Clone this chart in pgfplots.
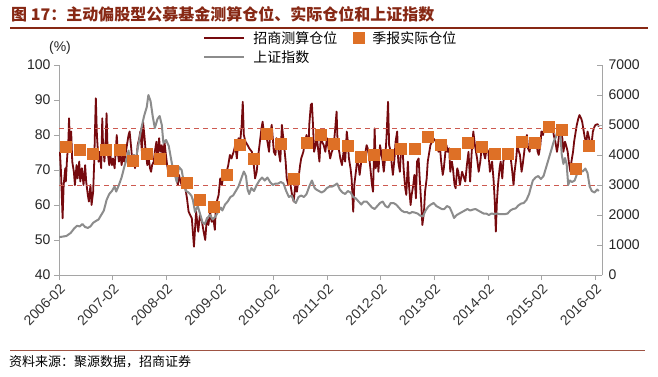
\documentclass[border=0pt]{standalone}
\usepackage{pgfplots}
\pgfplotsset{compat=1.18}
\usepackage{fontspec}
\setmainfont{Liberation Sans}
\newfontfamily\cjk{Noto Sans CJK SC}
\definecolor{posred}{RGB}{118,10,14}
\definecolor{idxgray}{RGB}{140,140,140}
\definecolor{qorange}{RGB}{222,112,38}
\definecolor{dashred}{RGB}{205,90,80}
\definecolor{titlecol}{RGB}{135,40,20}
\definecolor{axgray}{RGB}{165,165,165}
\pgfplotsset{
  base/.style={at={(59pt,101pt)}, anchor=south west, scale only axis,
    width=543pt, height=210pt, xmin=2006.083, xmax=2016.21},
  longline/.style={legend image code/.code={\draw[##1] (0pt,0pt) -- (40pt,0pt);}},
}
\begin{document}
\begin{tikzpicture}[x=1pt,y=1pt]
\path[use as bounding box, fill=white] (0,0) rectangle (658,376);
% title
\node[anchor=west, text=titlecol, font=\cjk\bfseries\fontsize{16}{16}\selectfont, inner sep=0pt] at (11,362) {图 17：主动偏股型公募基金测算仓位、实际仓位和上证指数};
\draw[titlecol, line width=1.2pt] (10,348) -- (648,348);
% source
\draw[titlecol!80, line width=0.8pt] (10,26) -- (645,26);
\node[anchor=west, font=\cjk\fontsize{13}{13}\selectfont, inner sep=0pt] at (9,14) {资料来源：聚源数据，招商证券};
\node[font=\fontsize{14}{14}\selectfont, text=black!85] at (60,328) {(\%)};

\begin{axis}[base, ymin=40, ymax=100,
  axis x line*=bottom, axis y line*=left,
  axis line style={axgray, line width=1pt},
  tick style={axgray, line width=0.8pt}, major tick length=5pt, tick align=outside,
  xtick={2006.083,2007.083,2008.083,2009.083,2010.083,2011.083,2012.083,2013.083,2014.083,2015.083,2016.083},
  xticklabels={2006-02,2007-02,2008-02,2009-02,2010-02,2011-02,2012-02,2013-02,2014-02,2015-02,2016-02},
  xticklabel style={rotate=45, anchor=north east, font=\fontsize{14}{14}\selectfont, text=black!80, inner sep=2pt},
  ytick={40,50,60,70,80,90,100},
  yticklabel style={font=\fontsize{14}{14}\selectfont, text=black!85},
  /pgf/number format/assume math mode=true]
\addplot[posred, line width=1.8pt, line join=round] coordinates {
(2006.10,75.2)(2006.12,69.5)(2006.15,56.2)(2006.17,65.7)(2006.20,70.5)(2006.21,66.7)(2006.23,72.4)(2006.26,79.1)(2006.27,84.8)(2006.29,77.1)
(2006.31,81.0)(2006.33,72.4)(2006.36,69.5)(2006.38,65.7)(2006.41,71.4)(2006.43,67.6)(2006.46,72.4)(2006.48,66.7)(2006.51,70.5)(2006.54,65.7)
(2006.57,71.4)(2006.59,66.7)(2006.62,62.9)(2006.64,61.0)(2006.67,65.7)(2006.69,60.0)(2006.72,63.8)(2006.74,72.4)(2006.76,84.8)(2006.77,90.5)
(2006.79,80.0)(2006.82,72.4)(2006.84,75.2)(2006.87,70.5)(2006.89,84.8)(2006.90,79.1)(2006.93,72.4)(2006.95,77.1)(2006.97,86.2)(2006.99,75.2)
(2007.02,71.4)(2007.04,74.3)(2007.07,71.4)(2007.09,73.3)(2007.12,70.5)(2007.14,75.2)(2007.16,80.0)(2007.18,75.2)(2007.20,72.4)(2007.23,74.3)
(2007.25,71.4)(2007.28,74.3)(2007.30,72.4)(2007.33,75.2)(2007.35,77.1)(2007.38,80.0)(2007.40,81.0)(2007.43,76.2)(2007.45,72.4)(2007.48,74.3)
(2007.50,70.5)(2007.53,73.3)(2007.55,77.1)(2007.58,79.1)(2007.60,81.0)(2007.63,75.2)(2007.65,83.8)(2007.68,79.1)(2007.70,75.2)(2007.73,71.4)
(2007.75,74.3)(2007.78,70.5)(2007.80,69.5)(2007.82,71.4)(2007.85,72.4)(2007.87,75.2)(2007.90,78.1)(2007.92,73.3)(2007.95,79.1)(2007.97,75.2)
(2008.00,77.1)(2008.02,72.4)(2008.05,78.1)(2008.07,75.2)(2008.10,71.4)(2008.12,69.5)(2008.15,70.5)(2008.17,68.6)(2008.20,70.5)(2008.22,69.5)
(2008.25,68.6)(2008.27,67.6)(2008.30,65.7)(2008.32,68.6)(2008.35,66.7)(2008.37,65.7)(2008.40,66.7)(2008.43,65.7)(2008.47,61.9)(2008.50,58.1)
(2008.56,56.2)(2008.60,48.1)(2008.64,58.1)(2008.68,52.4)(2008.71,57.1)(2008.75,55.2)(2008.78,52.4)(2008.81,50.0)(2008.84,56.2)(2008.87,54.3)
(2008.90,58.1)(2008.93,55.2)(2008.96,56.2)(2008.99,52.9)(2009.01,60.0)(2009.06,62.9)(2009.09,67.6)(2009.12,65.7)(2009.15,68.6)(2009.18,67.6)
(2009.21,69.5)(2009.24,71.4)(2009.27,74.3)(2009.30,73.3)(2009.34,75.2)(2009.37,77.1)(2009.40,73.3)(2009.43,79.1)(2009.46,77.6)(2009.49,82.9)
(2009.51,89.5)(2009.53,80.0)(2009.56,78.1)(2009.60,77.1)(2009.63,76.2)(2009.68,75.2)(2009.71,72.4)(2009.74,67.6)(2009.77,69.5)(2009.80,74.3)
(2009.83,78.1)(2009.86,81.9)(2009.88,83.8)(2009.91,80.0)(2009.93,81.0)(2009.97,78.1)(2010.00,75.2)(2010.02,80.0)(2010.05,82.9)(2010.07,79.1)
(2010.09,75.2)(2010.12,74.3)(2010.14,79.1)(2010.18,75.2)(2010.21,72.4)(2010.24,82.9)(2010.26,80.0)(2010.28,77.1)(2010.31,72.4)(2010.33,67.6)
(2010.36,65.7)(2010.38,68.6)(2010.41,64.8)(2010.43,62.9)(2010.46,61.0)(2010.49,65.7)(2010.52,63.8)(2010.55,67.6)(2010.58,71.4)(2010.60,73.3)
(2010.64,75.2)(2010.67,78.1)(2010.70,80.0)(2010.74,77.1)(2010.75,82.9)(2010.78,88.6)(2010.80,89.0)(2010.82,82.9)(2010.84,75.2)(2010.87,77.1)
(2010.89,80.0)(2010.92,75.2)(2010.94,72.4)(2010.97,81.0)(2010.99,78.1)(2011.02,77.1)(2011.05,75.2)(2011.08,79.1)(2011.14,73.3)(2011.17,75.2)
(2011.20,76.2)(2011.23,81.0)(2011.26,86.7)(2011.28,77.1)(2011.31,75.2)(2011.33,73.3)(2011.36,71.4)(2011.39,75.2)(2011.42,72.4)(2011.45,81.0)
(2011.47,78.1)(2011.49,73.3)(2011.52,70.5)(2011.54,67.6)(2011.57,58.1)(2011.59,65.7)(2011.62,69.5)(2011.64,72.4)(2011.67,71.4)(2011.69,68.6)
(2011.72,72.4)(2011.74,75.2)(2011.77,72.4)(2011.79,74.3)(2011.82,77.1)(2011.84,76.2)(2011.87,73.3)(2011.89,70.5)(2011.92,65.7)(2011.94,63.8)
(2011.97,81.9)(2011.99,70.5)(2012.02,75.2)(2012.04,69.5)(2012.07,77.1)(2012.09,75.2)(2012.12,72.4)(2012.14,69.5)(2012.17,74.3)(2012.19,79.1)
(2012.22,89.5)(2012.24,77.1)(2012.27,75.2)(2012.29,71.4)(2012.31,68.6)(2012.34,73.3)(2012.36,78.1)(2012.39,81.0)(2012.41,72.4)(2012.44,69.5)
(2012.46,75.2)(2012.49,76.2)(2012.51,70.5)(2012.54,64.8)(2012.56,62.9)(2012.59,72.4)(2012.61,65.7)(2012.64,60.0)(2012.66,62.9)(2012.69,65.7)
(2012.71,68.6)(2012.74,61.9)(2012.76,72.4)(2012.79,73.3)(2012.81,67.6)(2012.84,60.0)(2012.86,54.3)(2012.89,58.1)(2012.91,63.8)(2012.94,67.6)
(2012.96,72.4)(2012.99,75.2)(2013.01,77.1)(2013.04,78.1)(2013.06,79.1)(2013.09,78.6)(2013.11,78.1)(2013.14,77.1)(2013.16,75.2)(2013.19,76.2)
(2013.21,72.4)(2013.24,68.6)(2013.26,70.5)(2013.29,75.2)(2013.31,77.1)(2013.33,75.2)(2013.36,76.2)(2013.38,69.5)(2013.41,72.4)(2013.43,70.5)
(2013.46,65.7)(2013.48,64.8)(2013.51,70.5)(2013.53,69.5)(2013.56,65.7)(2013.60,69.5)(2013.66,66.7)(2013.69,71.4)(2013.72,75.2)(2013.75,66.7)
(2013.78,75.2)(2013.81,81.0)(2013.84,77.1)(2013.88,73.3)(2013.91,69.5)(2013.94,72.4)(2013.97,77.1)(2014.00,75.2)(2014.03,73.3)(2014.06,76.2)
(2014.09,75.2)(2014.12,69.5)(2014.16,72.4)(2014.19,66.7)(2014.21,61.0)(2014.23,52.4)(2014.25,61.0)(2014.27,65.7)(2014.30,70.5)(2014.32,72.4)
(2014.35,67.6)(2014.37,72.4)(2014.40,74.3)(2014.42,75.2)(2014.45,73.3)(2014.47,75.2)(2014.50,74.3)(2014.53,70.5)(2014.56,65.7)(2014.58,69.5)
(2014.61,73.3)(2014.63,77.1)(2014.66,75.2)(2014.68,74.3)(2014.71,69.5)(2014.73,71.4)(2014.76,75.2)(2014.78,78.1)(2014.81,80.0)(2014.83,76.2)
(2014.86,75.2)(2014.88,78.1)(2014.91,79.1)(2014.93,77.1)(2014.96,79.1)(2014.98,78.1)(2015.01,75.2)(2015.03,74.3)(2015.06,77.1)(2015.08,81.0)
(2015.11,80.0)(2015.13,81.9)(2015.16,81.0)(2015.18,82.9)(2015.21,81.9)(2015.24,81.0)(2015.28,82.9)(2015.31,80.0)(2015.34,78.1)(2015.37,75.2)
(2015.39,77.1)(2015.42,81.9)(2015.44,81.0)(2015.47,79.1)(2015.49,75.2)(2015.52,78.1)(2015.54,77.1)(2015.57,75.2)(2015.59,72.4)(2015.62,69.5)
(2015.64,72.4)(2015.67,75.2)(2015.69,78.1)(2015.72,81.0)(2015.74,82.9)(2015.77,84.8)(2015.79,85.7)(2015.82,84.8)(2015.84,83.8)(2015.87,81.0)
(2015.89,79.1)(2015.92,78.1)(2015.94,81.0)(2015.97,79.1)(2015.99,77.1)(2016.02,78.1)(2016.04,81.0)(2016.07,82.4)(2016.09,82.9)(2016.13,83.1)
(2016.15,82.4)
};
\addplot[dashred, line width=1pt, dash pattern=on 5pt off 4pt] coordinates {(2006.083,82) (2016.21,82)};
\addplot[dashred, line width=1pt, dash pattern=on 5pt off 4pt] coordinates {(2006.083,65.7) (2016.21,65.7)};
\end{axis}

\begin{axis}[base, ymin=0, ymax=7000,
  axis y line*=right, axis x line=none,
  axis line style={axgray, line width=1pt},
  tick style={axgray, line width=0.8pt}, major tick length=5pt, tick align=inside,
  ytick={0,1000,2000,3000,4000,5000,6000,7000},
  yticklabel style={font=\fontsize{14}{14}\selectfont, text=black!85, xshift=3pt},
  /pgf/number format/1000 sep={},
  /pgf/number format/assume math mode=true]
\addplot[idxgray, line width=2pt, line join=round] coordinates {
(2006.08,1260)(2006.15,1280)(2006.22,1300)(2006.30,1400)(2006.37,1560)(2006.42,1640)(2006.47,1620)(2006.52,1700)(2006.57,1600)(2006.62,1570)
(2006.67,1620)(2006.72,1740)(2006.77,1800)(2006.82,1850)(2006.87,2000)(2006.92,2150)(2006.97,2500)(2007.02,2700)(2007.07,2800)(2007.12,2950)
(2007.15,2780)(2007.20,3000)(2007.25,3250)(2007.30,3600)(2007.35,3900)(2007.38,4150)(2007.40,3900)(2007.43,3700)(2007.47,4000)(2007.52,3900)
(2007.57,4400)(2007.62,4900)(2007.67,5300)(2007.72,5600)(2007.75,6000)(2007.79,5800)(2007.83,5300)(2007.87,4900)(2007.92,5200)(2007.96,5300)
(2008.00,5000)(2008.03,4400)(2008.08,4500)(2008.13,4300)(2008.17,3900)(2008.22,3400)(2008.25,3300)(2008.28,3100)(2008.32,3600)(2008.37,3500)
(2008.42,3000)(2008.45,2800)(2008.50,2750)(2008.55,2650)(2008.58,2500)(2008.62,2100)(2008.67,2300)(2008.72,2000)(2008.76,1750)(2008.80,1700)
(2008.85,1900)(2008.90,2000)(2008.95,1850)(2009.00,1950)(2009.05,2100)(2009.10,2250)(2009.13,2150)(2009.18,2350)(2009.23,2450)(2009.28,2600)
(2009.33,2650)(2009.38,2800)(2009.43,2950)(2009.48,3200)(2009.53,3450)(2009.57,3300)(2009.60,2850)(2009.63,2700)(2009.67,2900)(2009.72,2800)
(2009.77,3000)(2009.82,3150)(2009.87,3250)(2009.92,3150)(2009.97,3250)(2010.02,3100)(2010.07,3000)(2010.12,3050)(2010.17,3050)(2010.22,3100)
(2010.27,3050)(2010.32,2800)(2010.37,2600)(2010.42,2650)(2010.47,2450)(2010.50,2400)(2010.55,2600)(2010.60,2650)(2010.65,2600)(2010.70,2700)
(2010.75,2950)(2010.80,3150)(2010.85,2900)(2010.88,2850)(2010.93,2800)(2010.98,2750)(2011.03,2800)(2011.08,2900)(2011.13,2950)(2011.18,2950)
(2011.23,3000)(2011.27,3050)(2011.32,2850)(2011.37,2750)(2011.42,2700)(2011.47,2800)(2011.52,2750)(2011.57,2600)(2011.62,2550)(2011.67,2450)
(2011.72,2350)(2011.77,2450)(2011.82,2450)(2011.87,2350)(2011.92,2250)(2011.97,2200)(2012.02,2300)(2012.07,2400)(2012.12,2450)(2012.17,2300)
(2012.22,2250)(2012.27,2400)(2012.32,2400)(2012.37,2350)(2012.42,2250)(2012.47,2150)(2012.52,2100)(2012.57,2100)(2012.62,2050)(2012.67,2100)
(2012.72,2080)(2012.77,2050)(2012.82,1980)(2012.87,1950)(2012.92,2150)(2012.97,2280)(2013.02,2350)(2013.07,2400)(2013.12,2300)(2013.17,2250)
(2013.22,2200)(2013.27,2200)(2013.32,2300)(2013.37,2250)(2013.42,2050)(2013.45,1900)(2013.50,2000)(2013.55,2050)(2013.60,2100)(2013.65,2150)
(2013.70,2200)(2013.75,2150)(2013.80,2180)(2013.85,2200)(2013.90,2150)(2013.95,2100)(2014.00,2050)(2014.05,2050)(2014.10,2000)(2014.15,2050)
(2014.20,2030)(2014.25,2050)(2014.30,2030)(2014.35,2030)(2014.40,2030)(2014.45,2050)(2014.50,2150)(2014.55,2200)(2014.60,2220)(2014.65,2320)
(2014.70,2380)(2014.75,2400)(2014.80,2500)(2014.85,2700)(2014.88,2900)(2014.92,3150)(2014.97,3250)(2015.02,3300)(2015.07,3200)(2015.12,3300)
(2015.17,3600)(2015.22,3900)(2015.27,4200)(2015.31,4450)(2015.35,4600)(2015.40,5000)(2015.43,4800)(2015.46,4000)(2015.49,3700)(2015.52,3900)
(2015.55,3700)(2015.58,3000)(2015.61,3150)(2015.65,3100)(2015.70,3150)(2015.75,3400)(2015.80,3500)(2015.85,3450)(2015.90,3550)(2015.94,3400)
(2015.98,2950)(2016.02,2800)(2016.07,2750)(2016.12,2850)(2016.15,2800)
};
\end{axis}

\begin{axis}[base, ymin=40, ymax=100, hide axis,
  legend columns=2,
  legend style={draw=none, fill=none, at={(axis description cs:0.26,1.18)}, anchor=north west,
    font=\cjk\fontsize{14}{14}\selectfont, row sep=2pt,
    /tikz/every odd column/.append style={column sep=6pt},
    /tikz/every even column/.append style={column sep=14pt}},
  legend cell align=left]
\addlegendimage{longline, posred, line width=2pt}
\addlegendentry{招商测算仓位}
\addplot[only marks, mark=square*, mark size=5.5pt, mark options={fill=qorange, draw=qorange}] coordinates {
(2006.21,76.7)(2006.46,75.7)(2006.71,74.8)(2006.96,75.7)(2007.21,75.9)(2007.46,72.8)(2007.71,74.8)(2007.96,73.3)
(2008.21,69.7)(2008.46,66.5)(2008.71,61.4)(2008.96,59.5)(2009.21,68.8)(2009.46,77.1)(2009.71,73.3)(2009.96,80.5)
(2010.21,77.6)(2010.46,67.4)(2010.71,77.9)(2010.96,80.0)(2011.21,77.6)(2011.46,76.9)(2011.71,73.8)(2011.96,74.3)
(2012.21,74.3)(2012.46,76.2)(2012.71,76.2)(2012.96,79.5)(2013.21,77.1)(2013.46,74.8)(2013.71,77.9)(2013.96,76.7)
(2014.21,74.8)(2014.46,74.6)(2014.71,78.1)(2014.96,77.9)(2015.21,82.4)(2015.46,81.4)(2015.71,70.3)(2015.96,76.9)
};
\addlegendentry{季报实际仓位}
\addlegendimage{longline, idxgray, line width=2pt}
\addlegendentry{上证指数}
\end{axis}
\end{tikzpicture}
\end{document}
